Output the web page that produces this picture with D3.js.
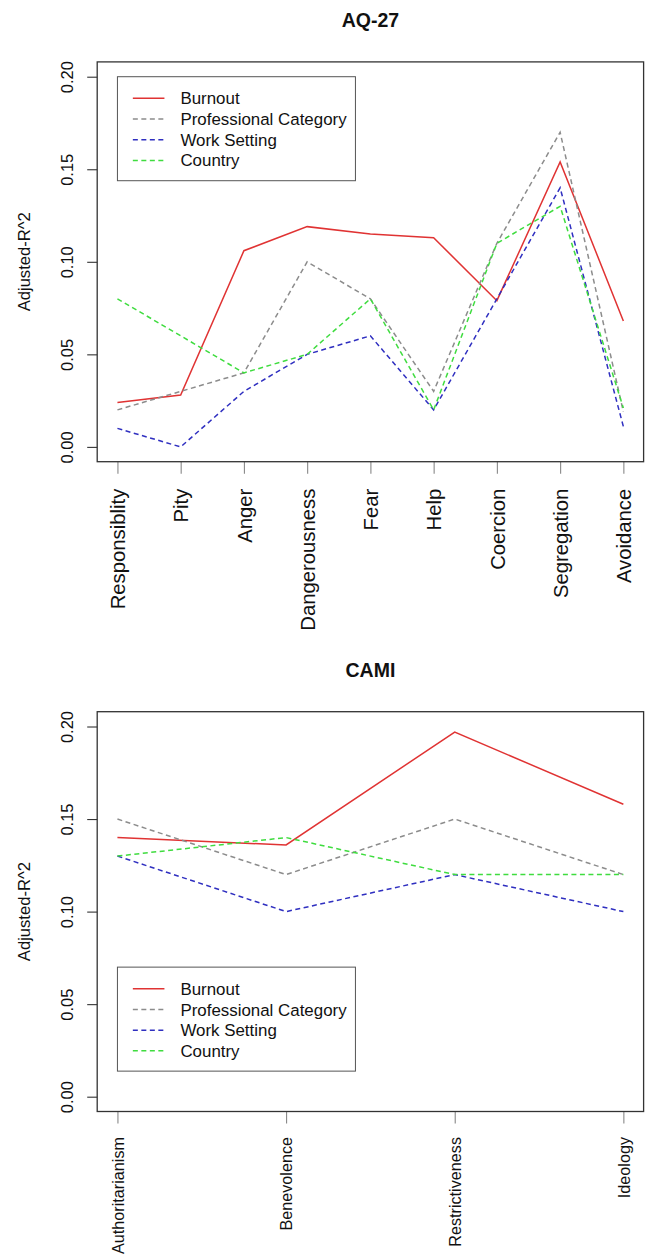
<!DOCTYPE html>
<html>
<head>
<meta charset="utf-8">
<script src="https://cdn.jsdelivr.net/npm/d3@7"></script>
<style>
  html, body { margin: 0; padding: 0; background: #fff; }
  svg { display: block; }
  text { font-family: "Liberation Sans", Arial, Helvetica, sans-serif; fill: #111; }
</style>
</head>
<body>
<svg id="chart" width="651" height="1254"></svg>
<script>
// ---------- DATA ----------
const seriesNames = ["Burnout", "Professional Category", "Work Setting", "Country"];
const yTicks = [0.00, 0.05, 0.10, 0.15, 0.20];

const aqTitle = "AQ-27";
const aqCategories = ["Responsiblity", "Pity", "Anger", "Dangerousness", "Fear", "Help", "Coercion", "Segregation", "Avoidance"];
const aqBurnout  = [0.024, 0.028, 0.106, 0.119, 0.115, 0.113, 0.079, 0.154, 0.068];
const aqProf     = [0.020, 0.030, 0.040, 0.100, 0.080, 0.030, 0.110, 0.170, 0.019];
const aqWork     = [0.010, 0.000, 0.030, 0.050, 0.060, 0.020, 0.080, 0.140, 0.011];
const aqCountry  = [0.080, 0.060, 0.040, 0.050, 0.080, 0.020, 0.110, 0.130, 0.021];

const camiTitle = "CAMI";
const camiCategories = ["Authoritarianism", "Benevolence", "Restrictiveness", "Ideology"];
const camiBurnout = [0.140, 0.136, 0.197, 0.158];
const camiProf    = [0.150, 0.120, 0.150, 0.120];
const camiWork    = [0.130, 0.100, 0.120, 0.100];
const camiCountry = [0.130, 0.140, 0.120, 0.120];

// ---------- STYLE ----------
const styles = [
  { color: "#e03333", dash: null },
  { color: "#8c8c8c", dash: "5,3.5" },
  { color: "#2f2fc0", dash: "5,3.5" },
  { color: "#3fdc3f", dash: "5,3.5" }
];

const svg = d3.select("#chart");

function drawPanel(offsetY, title, categories, series, legendTopValue, xFont, xGap) {
  const left = 97.2, right = 643.6, top = 61.9 + offsetY, bottom = 461.7 + offsetY;
  const n = categories.length;
  const ext = 0.04 * (n - 1);
  const x = d3.scaleLinear().domain([1 - ext, n + ext]).range([left, right]);
  const y = d3.scaleLinear().domain([-0.008, 0.208]).range([bottom, top]);

  const g = svg.append("g");

  // title
  g.append("text")
    .attr("x", (left + right) / 2)
    .attr("y", 27.3 + offsetY)
    .attr("text-anchor", "middle")
    .attr("font-weight", "bold")
    .attr("font-size", "19.5px")
    .text(title);

  // y axis
  const yAxis = d3.axisLeft(y).tickValues(yTicks).tickSize(10).tickFormat(d3.format(".2f"));
  const ya = g.append("g").attr("transform", `translate(${left},0)`).call(yAxis);
  ya.select(".domain").remove();
  ya.selectAll(".tick line").attr("stroke", "#333").attr("stroke-width", 1.1);
  ya.selectAll(".tick text")
    .attr("x", 0).attr("y", 0).attr("dy", null).attr("dx", null)
    .attr("text-anchor", "middle")
    .attr("font-size", "16.5px")
    .attr("fill", "#111")
    .attr("transform", `translate(${72.6 - left},0) rotate(-90)`)
    .style("font-family", "'Liberation Sans', Arial, sans-serif");

  // y title
  g.append("text")
    .attr("transform", `translate(30.3,${(top + bottom) / 2}) rotate(-90)`)
    .attr("text-anchor", "middle")
    .attr("font-size", "16.6px")
    .text("Adjusted-R^2");

  // x axis
  const idx = d3.range(1, n + 1);
  const xAxis = d3.axisBottom(x).tickValues(idx).tickSize(12).tickFormat(i => categories[i - 1]);
  const xa = g.append("g").attr("transform", `translate(0,${bottom})`).call(xAxis);
  xa.select(".domain").remove();
  xa.selectAll(".tick line").attr("stroke", "#888").attr("stroke-width", 1.1);
  xa.selectAll(".tick text")
    .attr("x", 0).attr("y", 0).attr("dy", null)
    .attr("text-anchor", "end")
    .attr("font-size", xFont + "px")
    .attr("fill", "#111")
    .attr("transform", `translate(${(0.36 * xFont).toFixed(2)},${xGap}) rotate(-90)`)
    .style("font-family", "'Liberation Sans', Arial, sans-serif");

  // lines
  const line = d3.line().x((d, i) => x(i + 1)).y(d => y(d));
  series.forEach((s, k) => {
    g.append("path")
      .datum(s)
      .attr("fill", "none")
      .attr("stroke", styles[k].color)
      .attr("stroke-width", 1.5)
      .attr("stroke-dasharray", styles[k].dash)
      .attr("d", line);
  });

  // box
  g.append("rect")
    .attr("x", left).attr("y", top)
    .attr("width", right - left).attr("height", bottom - top)
    .attr("fill", "none").attr("stroke", "#333").attr("stroke-width", 1.3);

  // legend
  const lx = x(1), ly = y(legendTopValue);
  const lg = g.append("g");
  lg.append("rect")
    .attr("x", lx).attr("y", ly)
    .attr("width", 238).attr("height", 104)
    .attr("fill", "#fff").attr("stroke", "#555").attr("stroke-width", 1);
  seriesNames.forEach((name, k) => {
    const ry = ly + 21.6 + k * 20.7;
    lg.append("line")
      .attr("x1", lx + 15.4).attr("x2", lx + 47)
      .attr("y1", ry).attr("y2", ry)
      .attr("stroke", styles[k].color)
      .attr("stroke-width", 1.5)
      .attr("stroke-dasharray", styles[k].dash);
    lg.append("text")
      .attr("x", lx + 63)
      .attr("y", ry)
      .attr("dy", "0.36em")
      .attr("font-size", "16.9px")
      .text(name);
  });
}

drawPanel(0, aqTitle, aqCategories, [aqBurnout, aqProf, aqWork, aqCountry], 0.20, 20.3, 27);
drawPanel(649.8, camiTitle, camiCategories, [camiBurnout, camiProf, camiWork, camiCountry], 0.07, 16.2, 25.5);
</script>
</body>
</html>
